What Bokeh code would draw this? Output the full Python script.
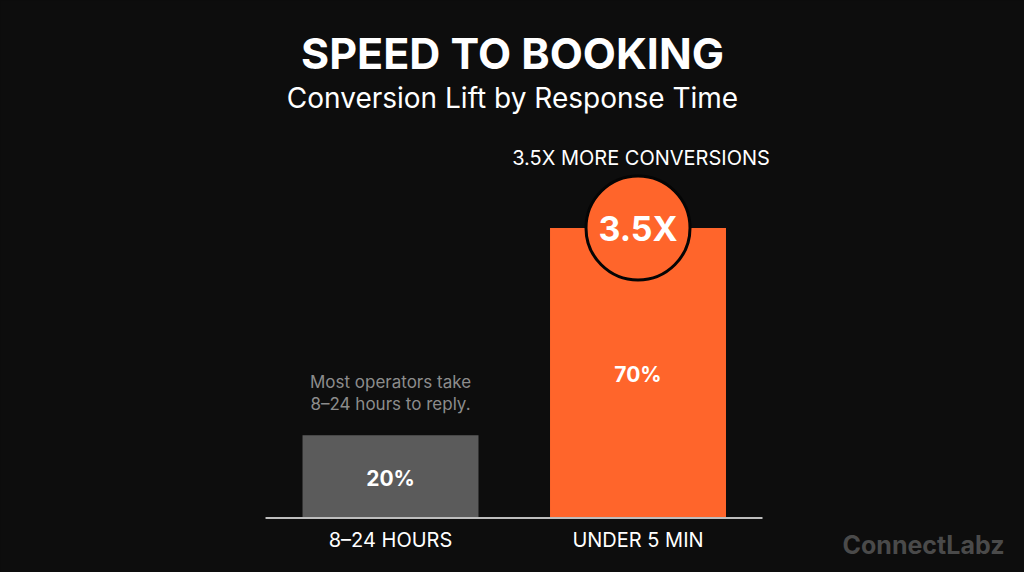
from bokeh.plotting import figure
from bokeh.models import Range1d, Label
from bokeh.embed import file_html
from bokeh.resources import INLINE
from bokeh.core.properties import value

categories = ["8–24 HOURS", "UNDER 5 MIN"]
values = [20, 70]
value_labels = ["20%", "70%"]
bar_colors = ["#5b5b5b", "#ff652b"]
title_text = "SPEED TO BOOKING"
subtitle_text = "Conversion Lift by Response Time"
callout_text = "3.5X MORE CONVERSIONS"
badge_text = "3.5X"
note_lines = ["Most operators take", "8–24 hours to reply."]
brand_text = "ConnectLabz"

BG = "#0d0d0d"
FONT = "Inter"
W, H = 1024, 572

xs = [0, 1]

p = figure(width=W, height=H, output_backend="svg", toolbar_location=None,
           x_range=Range1d(-1.5758, 2.5616), y_range=Range1d(-13.155, 124.91),
           min_border=0, min_border_left=0, min_border_right=0,
           min_border_top=0, min_border_bottom=0)
p.background_fill_color = BG
p.border_fill_color = BG
p.outline_line_color = None
p.axis.visible = False
p.grid.visible = False

# bars
p.vbar(x=xs, top=values, width=0.711, bottom=0, fill_color=bar_colors, line_color=None)

# baseline
p.segment(x0=[xs[0] - 0.505], y0=[0], x1=[xs[1] + 0.503], y1=[0],
          line_color="#bdbdbd", line_width=2)

# badge circle on top of the big bar
p.scatter(x=[xs[1]], y=[values[1]], marker="circle", size=104,
          fill_color="#ff652b", line_color="#050505", line_width=3)
p.text(x=[xs[1]], y=[values[1]], text=[badge_text], text_align="center",
       text_baseline="middle", text_color="white", text_font=value(FONT),
       text_font_style="bold", text_font_size="34px", y_offset=1)

# callout above
p.text(x=[xs[1]], y=[values[1]], text=[callout_text], text_align="center",
       text_baseline="middle", text_color="white", text_font=value(FONT),
       text_font_size="20px", y_offset=-70, x_offset=3)

# value labels in middle of bars
p.text(x=xs, y=[v / 2 for v in values], text=value_labels, text_align="center",
       text_baseline="middle", text_color="white", text_font=value(FONT),
       text_font_style="bold", text_font_size="21px", y_offset=2)

# category labels
p.text(x=xs, y=[0, 0], text=categories, text_align="center",
       text_baseline="middle", text_color="white", text_font=value(FONT),
       text_font_size="20px", y_offset=22)

# note above the small bar
p.text(x=[xs[0], xs[0]], y=[values[0], values[0]], text=note_lines,
       text_align="center", text_baseline="middle", text_color="#8c8c8c",
       text_font=value(FONT), text_font_size="17px", y_offset=[-53, -31])

# titles
p.add_layout(Label(x=512, y=H - 52, x_units="screen", y_units="screen",
                   text=title_text, text_align="center", text_baseline="middle",
                   text_color="white", text_font=FONT, text_font_style="bold",
                   text_font_size="43px"))
p.add_layout(Label(x=512, y=H - 97, x_units="screen", y_units="screen",
                   text=subtitle_text, text_align="center", text_baseline="middle",
                   text_color="white", text_font=FONT, text_font_size="28px"))
p.add_layout(Label(x=923, y=28, x_units="screen", y_units="screen",
                   text=brand_text, text_align="center", text_baseline="middle",
                   text_color="#4a4a4a", text_font=FONT, text_font_style="bold",
                   text_font_size="25px"))

html = file_html(p, INLINE)
html = html.replace("<head>", "<head><style>html,body{background:%s;}</style>" % BG, 1)
open("out.html", "w").write(html)
